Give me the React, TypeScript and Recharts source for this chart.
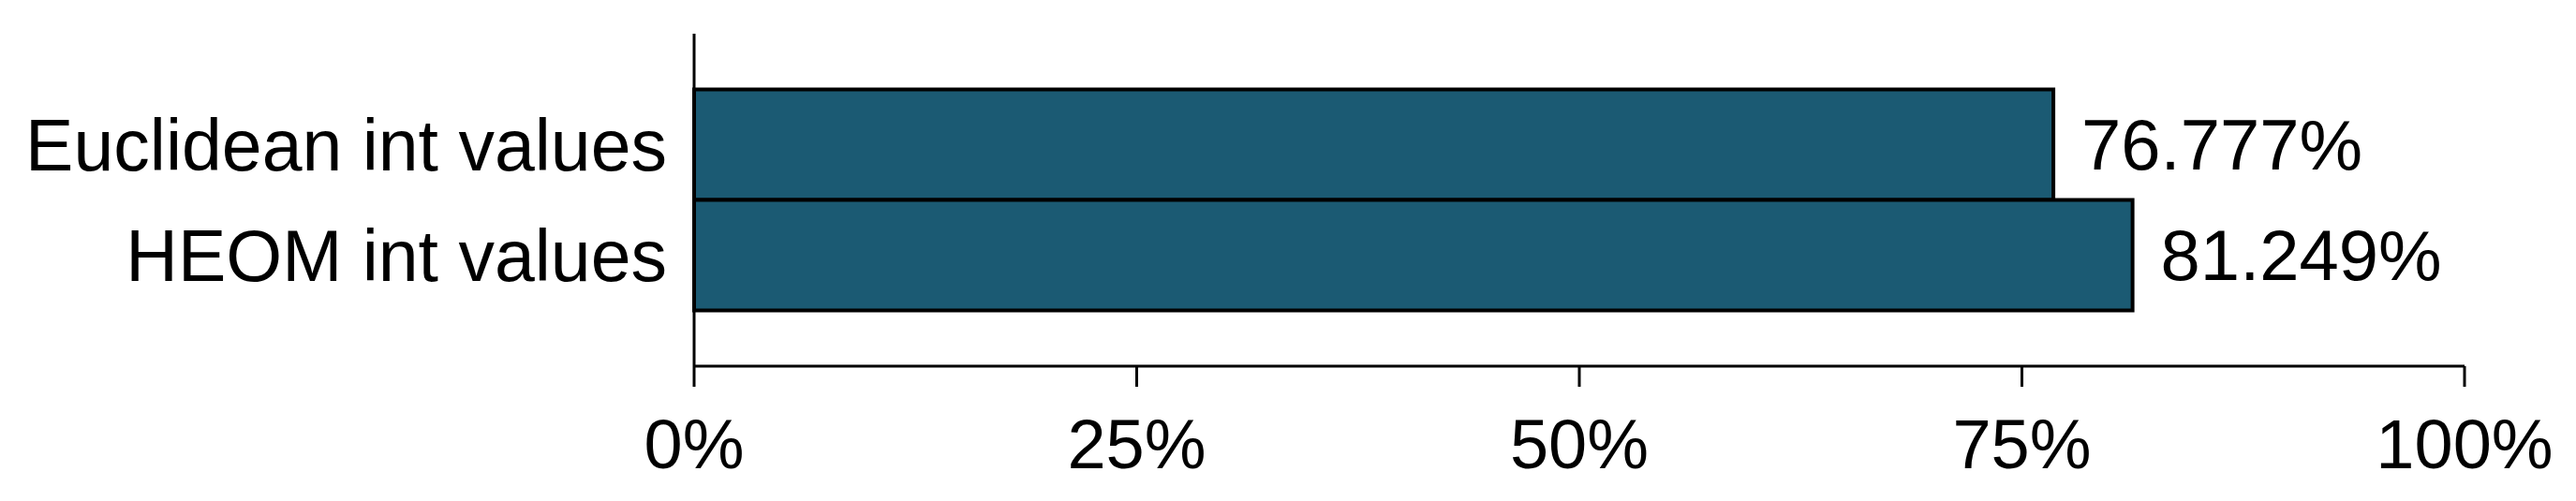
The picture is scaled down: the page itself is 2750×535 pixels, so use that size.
import { BarChart, Bar, XAxis, YAxis, LabelList } from "recharts";

const categories = ["Euclidean int values", "HEOM int values"];
const accuracy = [76.777, 81.249];
const xTicks = [0, 25, 50, 75, 100];

const data = categories.map((name, i) => ({ name, value: accuracy[i] }));

const font = "'Liberation Sans', Arial, sans-serif";

export default function App() {
  return (
    <div style={{ width: 2750, height: 535, background: "#fff" }}>
      <style>{`body{margin:0}`}</style>
      <BarChart
        width={2750}
        height={535}
        data={data}
        layout="vertical"
        margin={{ top: 36, right: 119, left: 0, bottom: 0 }}
        barCategoryGap={0}
      >
        <XAxis
          type="number"
          domain={[0, 100]}
          ticks={xTicks}
          interval={0}
          height={144}
          tickFormatter={(v: number) => `${v}%`}
          axisLine={{ stroke: "#000", strokeWidth: 3 }}
          tickLine={{ stroke: "#000", strokeWidth: 3 }}
          tickSize={22}
          tickMargin={34}
          tick={{ fill: "#000", fontSize: 74, fontFamily: font }}
        />
        <YAxis
          type="category"
          dataKey="name"
          width={741}
          padding={{ top: 59.5, bottom: 59.5 }}
          axisLine={{ stroke: "#000", strokeWidth: 3 }}
          tickLine={false}
          tickSize={0}
          tickMargin={29}
          tick={{ fill: "#000", fontSize: 77, fontFamily: font }}
        />
        <Bar
          dataKey="value"
          fill="#1b5a73"
          stroke="#000"
          strokeWidth={4}
          isAnimationActive={false}
        >
          <LabelList
            dataKey="value"
            position="right"
            offset={30}
            formatter={(v: any) => `${Number(v).toFixed(3)}%`}
            style={{ fill: "#000", fontSize: 76, fontFamily: font }}
          />
        </Bar>
      </BarChart>
    </div>
  );
}
